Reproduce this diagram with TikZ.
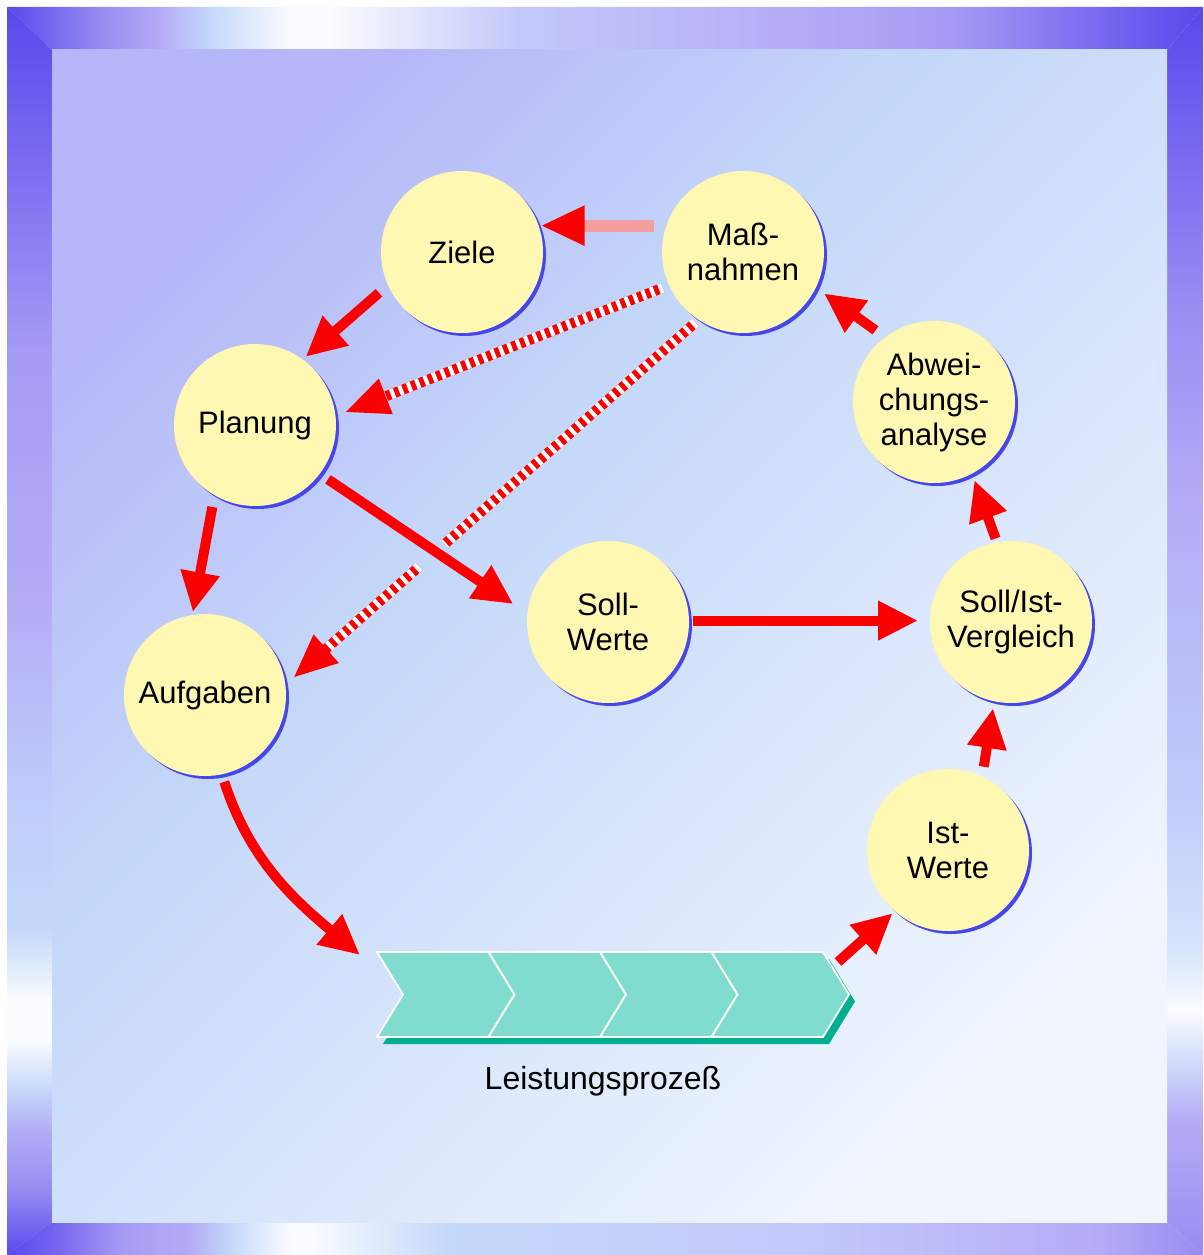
\documentclass[tikz,border=0pt]{standalone}
\usepackage{fontspec}
\setmainfont{Liberation Sans}
\usetikzlibrary{arrows.meta,calc,shadows}
\definecolor{bub}{RGB}{255,248,178}
\definecolor{sblue}{RGB}{70,70,235}
\definecolor{arred}{RGB}{250,0,0}
\definecolor{pinks}{RGB}{245,158,160}
\definecolor{chev}{RGB}{128,220,206}
\definecolor{chevsh}{RGB}{0,175,145}
\definecolor{fdark}{RGB}{88,72,236}
\definecolor{fa}{RGB}{120,105,240}
\definecolor{fb}{RGB}{150,140,242}
\definecolor{fc}{RGB}{165,155,244}
\definecolor{flav}{RGB}{180,172,246}
\definecolor{fd}{RGB}{196,200,250}
\definecolor{fe}{RGB}{190,205,250}
\definecolor{flb}{RGB}{196,216,250}
\definecolor{ff}{RGB}{215,228,252}
\definecolor{fwh}{RGB}{250,252,255}
\definecolor{p1}{RGB}{182,182,248}
\definecolor{p2}{RGB}{196,216,249}
\definecolor{p3}{RGB}{240,245,254}
\pgfdeclarehorizontalshading{panelsh}{100bp}{color(0bp)=(p1); color(25bp)=(p1); color(42bp)=(p2); color(75bp)=(p3); color(100bp)=(p3)}
\begin{document}
\begin{tikzpicture}[x=1pt,y=-1pt,
  bubble/.style={circle, fill=bub, minimum size=162pt, inner sep=0pt, outer sep=0pt,
    align=center, font=\fontsize{31}{35}\selectfont,
    general shadow={fill=sblue, shadow xshift=3pt, shadow yshift=-3pt}},
  arr/.style={draw=arred, line width=10pt, -{Triangle[length=40pt,width=37pt]}},
  hred/.style={draw=arred, line width=10pt},
  hwhite/.style={draw=white, line width=10pt, dash pattern=on 4pt off 5pt},
  chevbox/.style={fill=chev, draw=white, line width=1.8pt, line join=miter}
]
\useasboundingbox (0,0) rectangle (1203,1255);
\fill[white] (0,0) rectangle (1203,1255);

% ---- frame: top band
\begin{scope}
\clip (7,7) -- (1203,7) -- (1167,50) -- (52,50) -- cycle;
\foreach \xa/\xb/\ca/\cb in {6/101/fdark/fb, 100/161/fb/flav, 160/211/flav/flb, 210/291/flb/fwh, 290/331/fwh/fwh, 330/521/fwh/fd, 520/801/fd/flav, 800/951/flav/fc, 950/1101/fc/fa, 1100/1204/fa/fdark}
  \shade[left color=\ca, right color=\cb] (\xa,6) rectangle (\xb,51);
\end{scope}
% left band
\begin{scope}
\clip (7,7) -- (52,50) -- (52,1222) -- (7,1255) -- cycle;
\foreach \ya/\yb/\ca/\cb in {6/151/fdark/fa, 150/351/fa/fc, 350/601/fc/flav, 600/801/flav/fe, 800/931/fe/flb, 930/1001/flb/fwh, 1000/1041/fwh/fwh, 1040/1091/fwh/flb, 1090/1131/flb/flav, 1130/1191/flav/fb, 1190/1256/fb/fdark}
  \shade[top color=\ca, bottom color=\cb] (6,\ya) rectangle (53,\yb);
\end{scope}
% right band
\begin{scope}
\clip (1203,7) -- (1167,50) -- (1167,1222) -- (1203,1255) -- cycle;
\foreach \ya/\yb/\ca/\cb in {6/151/fdark/fa, 150/301/fa/fb, 300/501/fb/flav, 500/801/flav/fe, 800/951/fe/ff, 950/1011/ff/fwh, 1010/1051/fwh/ff, 1050/1121/ff/flav, 1120/1256/flav/fb}
  \shade[top color=\ca, bottom color=\cb] (1166,\ya) rectangle (1204,\yb);
\end{scope}
% bottom band
\begin{scope}
\clip (7,1255) -- (52,1222) -- (1167,1222) -- (1203,1255) -- cycle;
\foreach \xa/\xb/\ca/\cb in {6/61/fdark/fa, 60/121/fa/fc, 120/191/fc/flav, 190/231/flav/flb, 230/291/flb/fwh, 290/311/fwh/fwh, 310/451/fwh/flb, 450/801/flb/fd, 800/1101/fd/flav, 1100/1204/flav/fb}
  \shade[left color=\ca, right color=\cb] (\xa,1221) rectangle (\xb,1256);
\end{scope}

% ---- panel
\shade[shading=panelsh, shading angle=-45] (52,50) rectangle (1167,1222);

% ---- process band
\fill[chevsh] (383,959) -- (829,959) -- (855,1001.5) -- (829,1044) -- (383,1044) -- (409,1001.5) -- cycle;
\foreach \k in {0,...,3}{
  \pgfmathsetmacro{\xa}{377+111.5*\k}
  \pgfmathsetmacro{\xb}{377+111.5*(\k+1)}
  \draw[chevbox] (\xa,952) -- (\xb,952) -- (\xb+26,994.5) -- (\xb,1037) -- (\xa,1037) -- (\xa+26,994.5) -- cycle;
}
\node[minimum width=472pt, minimum height=85pt, inner sep=0pt, outer sep=0pt] (band) at (613,994.5) {};
\node[font=\fontsize{32}{35}\selectfont, inner sep=0pt] (lbl) at (603,1081) {Leistungsprozeß};

% ---- bubbles
\node[bubble] (ziele) at (462,252) {Ziele};
\node[bubble] (mass) at (743,252) {Maß-\\nahmen};
\node[bubble] (plan) at (255,425) {Planung};
\node[bubble] (abw) at (934,402) {Abwei-\\chungs-\\analyse};
\node[bubble] (soll) at (608,622) {Soll-\\Werte};
\node[bubble] (vgl) at (1011,622) {Soll/Ist-\\Vergleich};
\node[bubble] (aufg) at (205,695) {Aufgaben};
\node[bubble] (ist) at (948,850) {Ist-\\Werte};

% ---- coordinates
\coordinate (lpin) at ($(band.north west)+(-17,3)$);
\coordinate (lpout) at ($(band.north east)+(-11,10)$);
\coordinate (h1s) at ($(mass.center)!1.086!(mass.204)$);
\coordinate (h1t) at ($(plan.center)!1.12!(plan.8)$);
\coordinate (h2s) at ($(mass.center)!1.05!(mass.236)$);
\coordinate (h2t) at ($(aufg.center)!1.11!(aufg.11)$);
\coordinate (g1) at ($(h2s)!0.624!(h2t)$);
\coordinate (g2) at ($(h2s)!0.687!(h2t)$);

% ---- hatched arrows
\draw[hred, -{Triangle[length=44pt,width=35pt]}] (h1s) -- (h1t);
\draw[hwhite] (h1s) -- ($(h1t)!44pt!(h1s)$);
\draw[hred] (h2s) -- (g1);
\draw[hwhite] (h2s) -- (g1);
\draw[hred, -{Triangle[length=44pt,width=35pt]}] (g2) -- (h2t);
\draw[hwhite] (g2) -- ($(h2t)!44pt!(g2)$);

% ---- solid arrows
\draw[arr, draw=pinks, line width=12pt, -{Triangle[length=44pt,width=37pt,color=arred]}, shorten <=12pt, shorten >=2pt] (mass.161) -- (ziele.19);
\draw[arr, shorten <=12pt, shorten >=4pt] (ziele.204) -- (plan.54);
\draw[arr, shorten <=10pt, shorten >=17pt] (plan.-37) -- (soll.174);
\draw[arr, shorten <=12pt, shorten >=3pt] (plan.240) -- (aufg.99);
\draw[arr, shorten <=4pt, shorten >=12pt] (soll.1) -- (vgl.179);
\draw[arr, shorten <=8pt] (aufg.-78) to[out=-72, in=140] (lpin);
\draw[arr, shorten >=3pt] (lpout) -- (ist.229);
\draw[arr, shorten <=10pt, shorten >=7pt] (ist.65) -- (vgl.258);
\draw[arr, shorten <=4pt, shorten >=7pt] (vgl.100) -- (abw.-62);
\draw[arr, shorten <=12pt, shorten >=10pt] (abw.127) -- (mass.-26);
\end{tikzpicture}
\end{document}
